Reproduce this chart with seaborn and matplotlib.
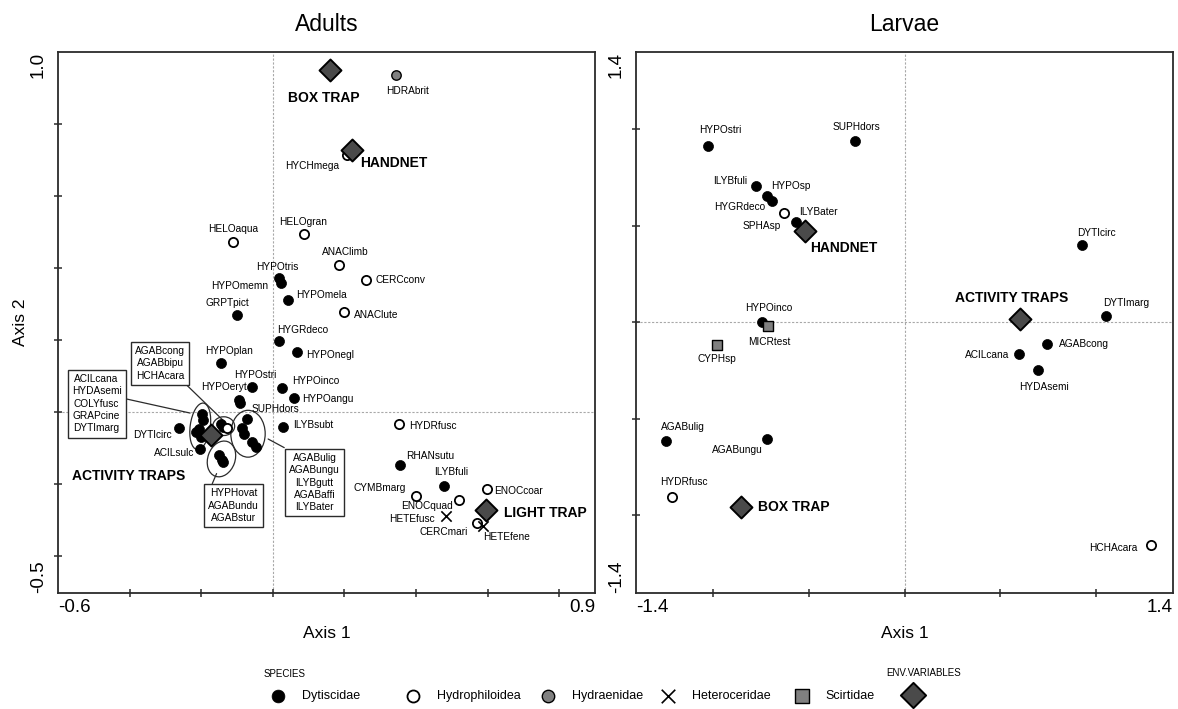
import numpy as np
import pandas as pd
import matplotlib
matplotlib.use("Agg")
import matplotlib.pyplot as plt
import seaborn as sns
from matplotlib.patches import Ellipse

sns.set_theme(style="ticks")
plt.rcParams["font.family"] = ["Liberation Sans", "DejaVu Sans"]
plt.rcParams["text.color"] = "black"
plt.rcParams["axes.labelcolor"] = "black"
plt.rcParams["xtick.color"] = "black"
plt.rcParams["ytick.color"] = "black"

# ---------------- Adults: species scores on CCA axes 1 and 2 ----------------
adult_names = [
    "HYPOtris", "HYPOmemn", "HYPOmela", "GRPTpict", "HYGRdeco", "HYPOnegl", "HYPOplan",
    "HYPOeryt", "HYPOstri", "SUPHdors", "HYPOinco", "HYPOangu", "ILYBsubt", "DYTIcirc",
    "ACILsulc", "RHANsutu", "ILYBfuli",
    "ACILcana", "HYDAsemi", "COLYfusc", "GRAPcine", "DYTImarg",
    "AGABcong", "AGABbipu",
    "AGABulig", "AGABungu", "ILYBgutt", "AGABaffi", "ILYBater",
    "HYPHovat", "AGABundu", "AGABstur",
    "HYCHmega", "HELOgran", "HELOaqua", "ANAClimb", "CERCconv", "ANAClute", "HYDRfusc",
    "CYMBmarg", "ENOCquad", "ENOCcoar", "CERCmari", "HCHAcara",
    "HDRAbrit", "HETEfusc", "HETEfene",
]
adult_group = (
    ["Dytiscidae"] * 32
    + ["Hydrophiloidea"] * 12
    + ["Hydraenidae"]
    + ["Heteroceridae"] * 2
)
adult_axis1 = [
    0.017, 0.023, 0.043, -0.099, 0.018, 0.069, -0.145,
    -0.057, -0.094, -0.091, 0.026, 0.060, 0.029, -0.262,
    -0.204, 0.355, 0.479,
    -0.198, -0.196, -0.205, -0.214, -0.200,
    -0.146, -0.138,
    -0.073, -0.087, -0.080, -0.059, -0.047,
    -0.149, -0.143, -0.138,
    0.208, 0.086, -0.111, 0.186, 0.259, 0.199, 0.353,
    0.401, 0.519, 0.597, 0.571, -0.127,
    0.345, 0.483, 0.588,
]
adult_axis2 = [
    0.373, 0.359, 0.313, 0.269, 0.198, 0.168, 0.136,
    0.071, 0.035, 0.026, 0.068, 0.041, -0.040, -0.043,
    -0.102, -0.145, -0.205,
    -0.005, -0.022, -0.045, -0.054, -0.068,
    -0.031, -0.040,
    -0.018, -0.043, -0.059, -0.081, -0.096,
    -0.119, -0.131, -0.138,
    0.714, 0.494, 0.473, 0.409, 0.368, 0.278, -0.032,
    -0.233, -0.244, -0.213, -0.307, -0.044,
    0.936, -0.289, -0.315,
]

# Adults: sampling methods (environmental variables)
adult_env_names = ["BOX TRAP", "HANDNET", "ACTIVITY TRAPS", "LIGHT TRAP"]
adult_env_axis1 = [0.161, 0.221, -0.173, 0.595]
adult_env_axis2 = [0.949, 0.727, -0.064, -0.272]

# Adults: crowded groups near ACTIVITY TRAPS, listed in boxes
adult_clusters = [
    ["ACILcana", "HYDAsemi", "COLYfusc", "GRAPcine", "DYTImarg"],
    ["AGABcong", "AGABbipu", "HCHAcara"],
    ["AGABulig", "AGABungu", "ILYBgutt", "AGABaffi", "ILYBater"],
    ["HYPHovat", "AGABundu", "AGABstur"],
]

# ---------------- Larvae: species scores ----------------
larva_names = [
    "HYPOstri", "SUPHdors", "ILYBfuli", "HYPOsp", "HYGRdeco", "ILYBater", "DYTIcirc",
    "DYTImarg", "HYPOinco", "AGABcong", "ACILcana", "HYDAsemi", "AGABulig", "AGABungu",
    "SPHAsp", "HYDRfusc", "HCHAcara",
    "MICRtest", "CYPHsp",
]
larva_group = ["Dytiscidae"] * 14 + ["Hydrophiloidea"] * 3 + ["Scirtidae"] * 2
larva_axis1 = [
    -1.024, -0.256, -0.776, -0.716, -0.690, -0.567, 0.924,
    1.048, -0.741, 0.741, 0.597, 0.698, -1.246, -0.719,
    -0.629, -1.214, 1.284,
    -0.711, -0.979,
]
larva_axis2 = [
    0.914, 0.938, 0.705, 0.653, 0.628, 0.520, 0.399,
    0.033, 0.000, -0.114, -0.167, -0.247, -0.616, -0.605,
    0.568, -0.905, -1.155,
    -0.020, -0.116,
]

larva_env_names = ["HANDNET", "ACTIVITY TRAPS", "BOX TRAP"]
larva_env_axis1 = [-0.519, 0.604, -0.852]
larva_env_axis2 = [0.472, 0.019, -0.955]

family_order = ["Dytiscidae", "Hydrophiloidea", "Hydraenidae", "Heteroceridae", "Scirtidae"]

# ---------------- styling ----------------
family_style = {
    "Dytiscidae": dict(marker="o", color="black", edgecolor="black", s=52, linewidth=0.5),
    "Hydrophiloidea": dict(marker="o", color="white", edgecolor="black", s=44, linewidth=1.3),
    "Hydraenidae": dict(marker="o", color="#808080", edgecolor="black", s=46, linewidth=1.0),
    "Heteroceridae": dict(marker="x", color="black", s=55, linewidth=1.2),
    "Scirtidae": dict(marker="s", color="#808080", edgecolor="black", s=48, linewidth=1.0),
}
env_style = dict(marker="D", color="#4a4a4a", edgecolor="black", s=125, linewidth=1.4)

LABEL_FS = 7.3
ENV_FS = 10

# label placement: offset (points) from the point, horizontal alignment
adult_label_pos = {
    "HYPOtris": (-1, 8, "center"), "HYPOmemn": (-9, -2, "right"), "HYPOmela": (6, 3, "left"),
    "GRPTpict": (-7, 9, "center"), "HYGRdeco": (17, 8, "center"), "HYPOnegl": (6, -2, "left"),
    "HYPOplan": (6, 9, "center"), "HYPOeryt": (-4, 0, "right"), "HYPOstri": (12, 18, "center"),
    "SUPHdors": (8, -4, "left"), "HYPOinco": (7, 5, "left"), "HYPOangu": (6, -1, "left"),
    "ILYBsubt": (7, 1, "left"), "DYTIcirc": (-5, -5, "right"), "ACILsulc": (-4, -3, "right"),
    "RHANsutu": (22, 6.5, "center"), "ILYBfuli": (5, 10.5, "center"),
    "HYCHmega": (-25, -8, "center"), "HELOgran": (0, 9, "center"), "HELOaqua": (0, 9, "center"),
    "ANAClimb": (4, 9, "center"), "CERCconv": (7.5, -0.5, "left"), "ANAClute": (7, -2, "left"),
    "HYDRfusc": (7, -1.5, "left"), "CYMBmarg": (-7.5, 6, "right"), "ENOCquad": (-23, -4, "center"),
    "ENOCcoar": (5.7, -1.3, "left"), "CERCmari": (-24, -6.5, "center"),
    "HDRAbrit": (8, -11.4, "center"), "HETEfusc": (-7.7, -1.6, "right"),
    "HETEfene": (16.5, -8.3, "center"),
}
adult_env_label_pos = {
    "BOX TRAP": (-4.6, -20, "center"), "HANDNET": (6.2, -8.8, "left"),
    "ACTIVITY TRAPS": (-59, -29, "center"), "LIGHT TRAP": (13, -1.6, "left"),
}
larva_label_pos = {
    "HYPOstri": (8.6, 11.1, "center"), "SUPHdors": (0.8, 10.1, "center"),
    "ILYBfuli": (-18.5, 3.5, "center"), "HYPOsp": (16.7, 7.2, "center"),
    "HYGRdeco": (-23.5, -4.3, "center"), "ILYBater": (2.5, 6.8, "left"),
    "SPHAsp": (-16.3, -9.5, "center"), "DYTIcirc": (10.4, 8.5, "center"),
    "DYTImarg": (14.8, 9.2, "center"), "HYPOinco": (4.8, 10.6, "center"),
    "AGABcong": (9.1, 0, "left"), "ACILcana": (-6.8, -0.7, "right"),
    "HYDAsemi": (4.1, -12.4, "center"), "AGABulig": (12.7, 10.4, "center"),
    "AGABungu": (-21.3, -7.9, "center"), "HYDRfusc": (8.6, 10.6, "center"),
    "HCHAcara": (-9.4, -1.7, "right"), "MICRtest": (0.7, -11.1, "center"),
    "CYPHsp": (0, -10, "center"),
}
larva_env_label_pos = {
    "HANDNET": (28, -12.5, "center"), "ACTIVITY TRAPS": (-6.2, 14.9, "center"),
    "BOX TRAP": (12.2, 0, "left"),
}

# ellipse shape per cluster (width, height, angle) and box/leader layout
cluster_shape = [(0.056, 0.13, -8), (0.061, 0.052, 0), (0.096, 0.13, 0), (0.076, 0.102, -20)]
cluster_box = [(-0.492, 0.024), (-0.315, 0.136), (0.117, -0.195), (-0.109, -0.259)]
cluster_leader = [
    ((-0.413, 0.038), (-0.231, -0.002)),
    ((-0.246, 0.081), (-0.139, -0.022)),
    ((0.032, -0.098), (-0.013, -0.074)),
    ((-0.169, -0.198), (-0.157, -0.170)),
]

adults = pd.DataFrame({"name": adult_names, "family": adult_group,
                       "axis1": adult_axis1, "axis2": adult_axis2})
larvae = pd.DataFrame({"name": larva_names, "family": larva_group,
                       "axis1": larva_axis1, "axis2": larva_axis2})
adult_env = pd.DataFrame({"name": adult_env_names, "axis1": adult_env_axis1, "axis2": adult_env_axis2})
larva_env = pd.DataFrame({"name": larva_env_names, "axis1": larva_env_axis1, "axis2": larva_env_axis2})

fig = plt.figure(figsize=(11.78, 7.09), dpi=100)
ax_a = fig.add_axes([0.0492, 0.1643, 0.4559, 0.7624])
ax_l = fig.add_axes([0.5399, 0.1643, 0.4559, 0.7624])


def draw_panel(ax, species, env, label_pos, env_label_pos):
    ax.axvline(0, color="#a8a8a8", lw=0.8, ls=(0, (2, 1.5)), zorder=0)
    ax.axhline(0, color="#a8a8a8", lw=0.8, ls=(0, (2, 1.5)), zorder=0)
    for fam in family_order:
        sub = species[species["family"] == fam]
        if sub.empty:
            continue
        sns.scatterplot(data=sub, x="axis1", y="axis2", ax=ax, legend=False,
                        zorder=3, **family_style[fam])
    sns.scatterplot(data=env, x="axis1", y="axis2", ax=ax, legend=False, zorder=4, **env_style)
    for _, r in species.iterrows():
        if r["name"] in label_pos:
            dx, dy, ha = label_pos[r["name"]]
            ax.annotate(r["name"], (r["axis1"], r["axis2"]), xytext=(dx, dy),
                        textcoords="offset points", ha=ha, va="center",
                        fontsize=LABEL_FS, color="black", zorder=5)
    for _, r in env.iterrows():
        dx, dy, ha = env_label_pos[r["name"]]
        ax.annotate(r["name"], (r["axis1"], r["axis2"]), xytext=(dx, dy),
                    textcoords="offset points", ha=ha, va="center",
                    fontsize=ENV_FS, fontweight="bold", color="black", zorder=5)
    ax.set_xlabel("Axis 1", fontsize=12.5, labelpad=7)
    ax.set_ylabel("")
    for sp in ax.spines.values():
        sp.set_visible(True)
        sp.set_linewidth(1.3)
        sp.set_color("#2b2b2b")


def set_axis_ticks(ax, xlim, ylim, xminor, yminor, xlabels, ylabels):
    ax.set_xlim(*xlim)
    ax.set_ylim(*ylim)
    ax.set_xticks(list(xlim))
    ax.set_xticklabels(xlabels)
    ax.set_yticks(list(ylim))
    ax.set_yticklabels(ylabels, rotation=90)
    ax.set_xticks(xminor, minor=True)
    ax.set_yticks(yminor, minor=True)
    ax.tick_params(which="major", length=0, labelsize=13.5, colors="black")
    ax.tick_params(axis="x", which="major", pad=5)
    ax.tick_params(axis="y", which="major", pad=8)
    ax.tick_params(which="minor", length=6, width=1.1, direction="inout", color="#2b2b2b")
    xt = ax.get_xticklabels()
    xt[0].set_ha("left")
    xt[1].set_ha("right")
    yt = ax.get_yticklabels()
    yt[0].set_va("bottom")
    yt[1].set_va("top")


draw_panel(ax_a, adults, adult_env, adult_label_pos, adult_env_label_pos)
draw_panel(ax_l, larvae, larva_env, larva_label_pos, larva_env_label_pos)

set_axis_ticks(ax_a, (-0.6, 0.9), (-0.5, 1.0),
               [-0.4, -0.2, 0.0, 0.2, 0.4, 0.6, 0.8],
               [-0.4, -0.2, 0.0, 0.2, 0.4, 0.6, 0.8],
               ["-0.6", "0.9"], ["-0.5", "1.0"])
set_axis_ticks(ax_l, (-1.4, 1.4), (-1.4, 1.4),
               [-1.0, -0.5, 0.0, 0.5, 1.0],
               [-1.0, -0.5, 0.0, 0.5, 1.0],
               ["-1.4", "1.4"], ["-1.4", "1.4"])

ax_a.set_ylabel("Axis 2", fontsize=12.5, labelpad=1)
ax_a.set_title("Adults", fontsize=16.5, pad=15)
ax_l.set_title("Larvae", fontsize=16.5, pad=15)

# encircled groups with their name boxes
for members, (w, h, ang), (bx, by), (p0, p1) in zip(adult_clusters, cluster_shape,
                                                     cluster_box, cluster_leader):
    sub = adults[adults["name"].isin(members)]
    cx, cy = sub["axis1"].mean(), sub["axis2"].mean()
    ax_a.add_patch(Ellipse((cx, cy), w, h, angle=ang, fill=False,
                           ec="#2b2b2b", lw=0.9, zorder=2))
    ax_a.plot([p0[0], p1[0]], [p0[1], p1[1]], color="#2b2b2b", lw=0.9, zorder=2)
    ax_a.text(bx, by, "\n".join(members), ha="center", va="center",
              fontsize=LABEL_FS, linespacing=1.3, color="black", zorder=6,
              bbox=dict(boxstyle="square,pad=0.4", fc="white", ec="#2b2b2b", lw=1.0))

# legend strip along the bottom (pixel layout)
leg = fig.add_axes([0, 0, 1, 0.08])
leg.set_xlim(0, 1178)
leg.set_ylim(709, 709 - 0.08 * 709)
leg.axis("off")
leg_y = 696
legend_x = [277.7, 413.3, 548.3, 668.3, 801.7]
legend_size = {"Dytiscidae": 85, "Hydrophiloidea": 75, "Hydraenidae": 80,
               "Heteroceridae": 95, "Scirtidae": 115}
for fam, lx in zip(family_order, legend_x):
    st = dict(family_style[fam])
    st["s"] = legend_size[fam]
    leg.scatter([lx], [leg_y], **st)
    leg.text(lx + 24, leg_y, fam, fontsize=9, va="center", ha="left", color="black")
leg.scatter([913.3], [leg_y - 1], marker="D", color="#4a4a4a", edgecolor="black",
            s=165, linewidth=1.4)
leg.text(264, 674, "SPECIES", fontsize=7, va="center", ha="left", color="black")
leg.text(886.7, 673, "ENV.VARIABLES", fontsize=7, va="center", ha="left", color="black")

fig.savefig("out.png", dpi=100, facecolor="white")
